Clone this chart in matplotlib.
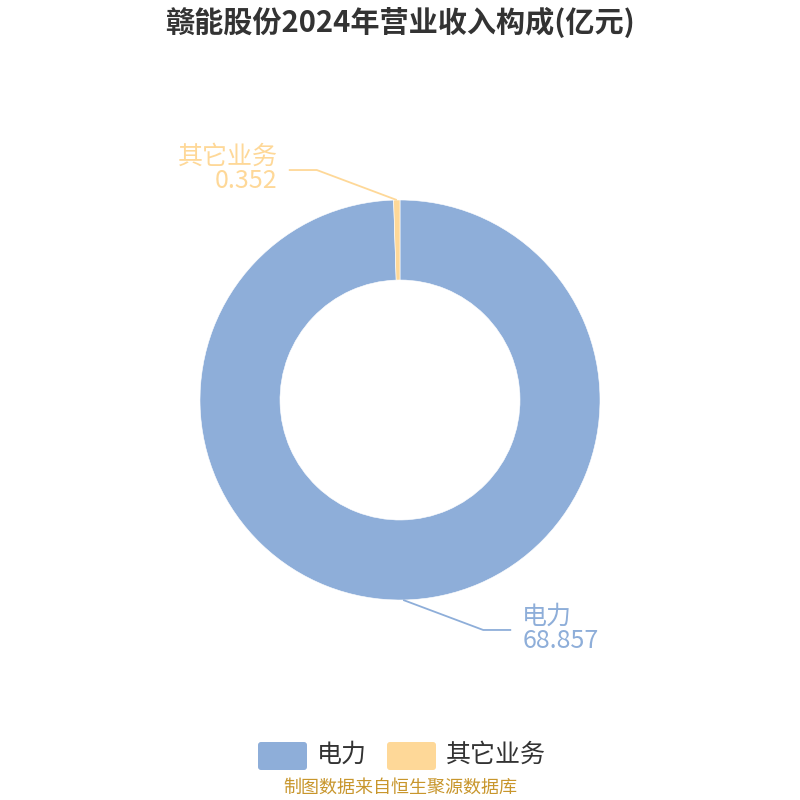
import numpy as np
import matplotlib
matplotlib.use("Agg")
import matplotlib.pyplot as plt
from matplotlib.patches import FancyBboxPatch

plt.rcParams['font.family'] = ['Noto Sans CJK SC', 'DejaVu Sans']

title = "赣能股份2024年营业收入构成(亿元)"
categories = ["电力", "其它业务"]
values = [68.857, 0.352]
colors = ["#8eaed9", "#fed898"]
source = "制图数据来自恒生聚源数据库"

W = H = 800
fig = plt.figure(figsize=(8, 8), dpi=100)
ax = fig.add_axes([0, 0, 1, 1])

def Y(py):
    # convert pixel row (top origin) to data y
    return H - py

cx, cy, R, r_in = 400, 400, 200, 120
ax.pie(values, colors=colors, startangle=90, counterclock=False,
       center=(cx, Y(cy)), radius=R,
       wedgeprops=dict(width=R - r_in, edgecolor="white", linewidth=0.4))
ax.set_xlim(0, W)
ax.set_ylim(0, H)
ax.set_aspect("equal")
ax.axis("off")

# leader lines + labels
total = sum(values)
start = 90.0
for name, val, col in zip(categories, values, colors):
    span = 360 * val / total
    mid = np.deg2rad(start - span / 2)
    start -= span
    x0, y0 = cx + R * np.cos(mid), Y(cy) + R * np.sin(mid)
    sx = 1 if np.cos(mid) >= 0 else -1
    sy = 1 if np.sin(mid) >= 0 else -1
    x1, y1 = x0 + sx * 80, y0 + sy * 30
    x2 = x1 + sx * 28
    ax.plot([x0, x1, x2], [y0, y1, y1], color=col, lw=1.3, solid_capstyle="butt")
    ha = "left" if sx > 0 else "right"
    tx = x2 + sx * 11
    ax.text(tx, y1 + 13, name, ha=ha, va="center", fontsize=18, color=col)
    ax.text(tx, y1 - 11, f"{val:.3f}", ha=ha, va="center", fontsize=18, color=col)

ax.text(400, Y(22), title, ha="center", va="center", fontsize=21,
        fontweight="bold", color="#333333")

# legend
lx = [258, 387]
for x, name, col in zip(lx, categories, colors):
    ax.add_patch(FancyBboxPatch((x + 3, Y(770) + 3), 43, 22,
                                boxstyle="round,pad=3", fc=col, ec="none"))
    ax.text(x + 59, Y(755), name, ha="left", va="center", fontsize=18,
            color="#333333")

ax.text(400, Y(788), source, ha="center", va="center", fontsize=13,
        color="#c8962c")

fig.savefig("out.png", dpi=100)
